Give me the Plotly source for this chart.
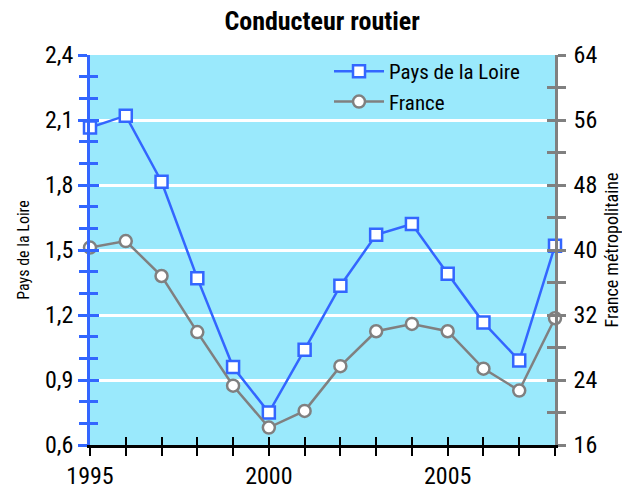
import plotly.graph_objects as go

years = list(range(1995, 2009))
pays_de_la_loire = [2.065, 2.12, 1.815, 1.37, 0.96, 0.75, 1.04, 1.335, 1.57, 1.62, 1.39, 1.165, 0.99, 1.52]
france = [40.3, 41.1, 36.8, 29.9, 23.3, 18.15, 20.2, 25.7, 30.0, 30.9, 30.0, 25.4, 22.7, 31.6]
year_labels = [str(y) if y % 5 == 0 else "" for y in years]

FONT = "Roboto Condensed, Barlow Condensed, Archivo Narrow, DejaVu Sans Condensed, sans-serif"
BLUE = "#3366FF"
GREY = "#808080"

fig = go.Figure()

fig.add_trace(go.Scatter(
    x=years, y=pays_de_la_loire, name="Pays de la Loire",
    mode="lines+markers", cliponaxis=False,
    line=dict(color=BLUE, width=2.5),
    marker=dict(symbol="square", size=12, color="white", line=dict(color=BLUE, width=2.5)),
))
fig.add_trace(go.Scatter(
    x=years, y=france, name="France", yaxis="y2",
    mode="lines+markers", cliponaxis=False,
    line=dict(color=GREY, width=2.5),
    marker=dict(symbol="circle", size=12, color="white", line=dict(color=GREY, width=2.5)),
))
# invisible traces so the overlay axes (inner half of the crossing ticks) get drawn
fig.add_trace(go.Scatter(x=years, y=pays_de_la_loire, xaxis="x2", yaxis="y3",
                         mode="lines", opacity=0, showlegend=False, hoverinfo="skip"))
fig.add_trace(go.Scatter(x=years, y=france, xaxis="x2", yaxis="y4",
                         mode="lines", opacity=0, showlegend=False, hoverinfo="skip"))

tickfont = dict(family=FONT, size=24, color="black")

# the page body has an 8px margin, so the figure is 8px smaller than the window
fig.update_layout(
    width=622, height=482,
    margin=dict(l=82, r=75, t=47, b=45),
    paper_bgcolor="white",
    plot_bgcolor="#9AE9FC",
    separators=", ",
    font=dict(family=FONT, color="black"),
    title=dict(text="<b>Conducteur routier</b>", x=0.505, xanchor="center",
               y=0.973, yanchor="middle", font=dict(family=FONT, size=26)),
    showlegend=True,
    legend=dict(x=0.514, y=1.01, xanchor="left", yanchor="top",
                bgcolor="rgba(0,0,0,0)", font=dict(family=FONT, size=21),
                itemwidth=50, tracegroupgap=0),
    xaxis=dict(
        range=[1995, 2008], tickvals=years, ticktext=year_labels,
        ticks="outside", ticklen=8, tickwidth=2, tickcolor="black",
        showline=True, linecolor="black", linewidth=2.5, ticklabelstandoff=-1,
        showgrid=False, zeroline=False, tickfont=tickfont, automargin=False,
    ),
    xaxis2=dict(
        overlaying="x", matches="x", anchor="y", side="bottom",
        tickvals=years, ticks="inside", ticklen=8, tickwidth=2, tickcolor="black",
        showticklabels=False, showline=False, showgrid=False, zeroline=False,
    ),
    yaxis=dict(
        range=[0.6, 2.4], tick0=0.6, dtick=0.3, tickformat=".1f",
        ticks="outside", ticklen=9, tickwidth=2.5, tickcolor=BLUE,
        minor=dict(dtick=0.1, tick0=0.6, ticks="outside", ticklen=8, tickwidth=2.5,
                   tickcolor=BLUE, showgrid=False),
        showline=True, linecolor=BLUE, linewidth=2.5,
        showgrid=True, gridcolor="white", gridwidth=2.5, zeroline=False,
        tickfont=tickfont, automargin=False,
        title=dict(text="Pays de la Loire", font=dict(family=FONT, size=16), standoff=12),
    ),
    yaxis3=dict(
        overlaying="y", matches="y", side="left", anchor="x",
        tick0=0.6, dtick=0.3, ticks="inside", ticklen=9, tickwidth=2.5, tickcolor=BLUE,
        minor=dict(dtick=0.1, tick0=0.6, ticks="inside", ticklen=8, tickwidth=2.5,
                   tickcolor=BLUE, showgrid=False),
        showticklabels=False, showline=False, showgrid=False, zeroline=False,
    ),
    yaxis2=dict(
        overlaying="y", side="right", anchor="x",
        range=[16, 64], tick0=16, dtick=8,
        ticks="outside", ticklen=8, tickwidth=2.5, tickcolor=GREY,
        minor=dict(dtick=4, tick0=16, ticks="outside", ticklen=8, tickwidth=2.5,
                   tickcolor=GREY, showgrid=False),
        showline=True, linecolor=GREY, linewidth=2.5, ticklabelstandoff=3,
        showgrid=False, zeroline=False, tickfont=tickfont, automargin=False,
        title=dict(text="France métropolitaine", font=dict(family=FONT, size=18), standoff=10),
    ),
    yaxis4=dict(
        overlaying="y", matches="y2", side="right", anchor="x",
        tick0=16, dtick=8, ticks="inside", ticklen=8, tickwidth=2.5, tickcolor=GREY,
        minor=dict(dtick=4, tick0=16, ticks="inside", ticklen=8, tickwidth=2.5,
                   tickcolor=GREY, showgrid=False),
        showticklabels=False, showline=False, showgrid=False, zeroline=False,
    ),
)

fig.write_html("out.html")
